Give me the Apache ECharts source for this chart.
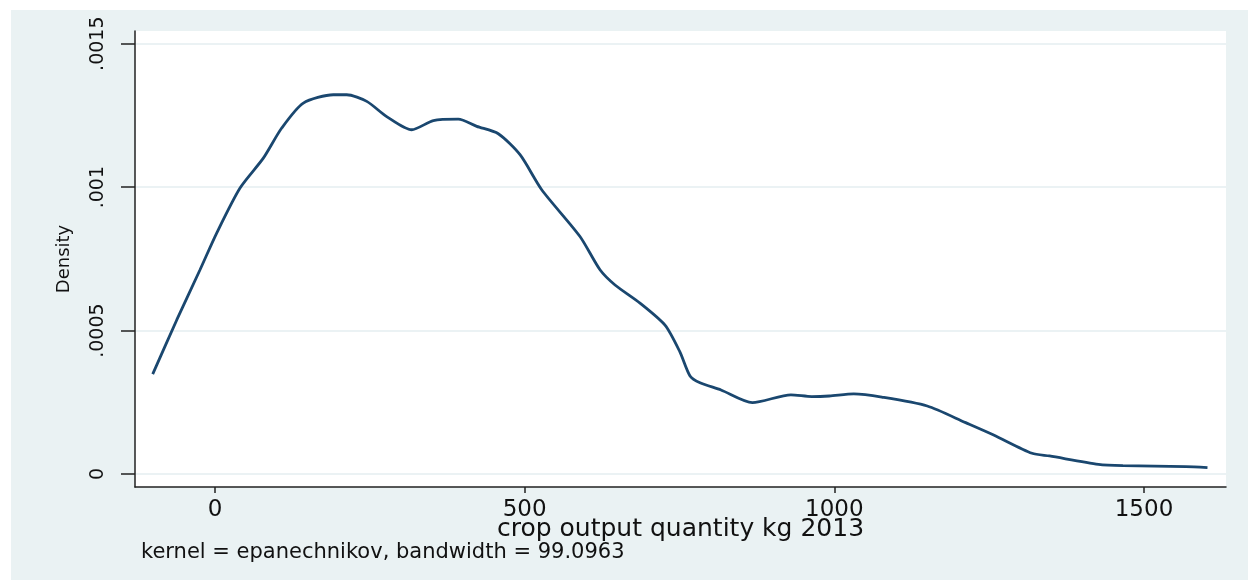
<!DOCTYPE html>
<html>
<head>
<meta charset="utf-8">
<script src="https://cdn.jsdelivr.net/npm/echarts@6/dist/echarts.min.js"></script>
<style>
  html, body { margin: 0; padding: 0; background: #ffffff; }
  #chart { position: absolute; left: 11px; top: 10px; width: 1237px; height: 570px; }
</style>
</head>
<body>
<div id="chart"></div>
<script>
// kernel density estimate
const xPoints = [-100.6, -61.8, -24.2, 2.7, 40.4, 78, 107.7, 142.6, 191, 212.7, 245, 277.2, 317.6, 352.5, 392.8, 422.6, 457.4, 492.5, 527.5, 589.3, 621.6, 645.9, 686.2, 726.6, 750.8, 767, 783.1, 817, 867.7, 929.9, 963.6, 991.9, 1031.4, 1076.6, 1150, 1212, 1257.2, 1319.2, 1347.4, 1426.5, 1466, 1567.5, 1602.5]
const densityValues = [0.000348, 0.000537, 0.000712, 0.00084, 0.000997, 0.001101, 0.001206, 0.001293, 0.001322, 0.001322, 0.001299, 0.001246, 0.0012, 0.001232, 0.001237, 0.001212, 0.001186, 0.001113, 0.000991, 0.000828, 0.000712, 0.000659, 0.000596, 0.000519, 0.000425, 0.000342, 0.000318, 0.000293, 0.000249, 0.000276, 0.00027, 0.000272, 0.000279, 0.000268, 0.000237, 0.000179, 0.000136, 0.0000722, 0.0000628, 0.0000338, 0.000029, 0.0000255, 0.000022]

const xTicks = [0, 500, 1000, 1500]
const yTicks = [0, 0.0005, 0.001, 0.0015]
const yTickLabels = ['0', '.0005', '.001', '.0015']

const xTitle = 'crop output quantity kg 2013'
const yTitle = 'Density'
const note = 'kernel = epanechnikov, bandwidth = 99.0963'

const font = 'DejaVu Sans'
const ink = '#111111'

const chart = echarts.init(document.getElementById('chart'))

chart.setOption({
  backgroundColor: '#eaf2f3',
  animation: false,
  title: {
    text: note,
    left: 130,
    top: 532,
    padding: 0,
    textStyle: { fontFamily: font, fontSize: 21, fontWeight: 'normal', color: ink },
  },
  grid: {
    left: 124,
    top: 21,
    right: 22,
    bottom: 93,
    show: true,
    backgroundColor: '#ffffff',
    borderWidth: 0,
  },
  xAxis: {
    type: 'value',
    min: -129.2,
    max: 1632.4,
    name: xTitle,
    nameLocation: 'middle',
    nameGap: 30,
    nameMoveOverlap: false,
    nameTextStyle: { fontFamily: font, fontSize: 25, color: ink },
    axisLine: { onZero: false, lineStyle: { color: '#222222', width: 1.5 } },
    axisTick: { length: 6, customValues: xTicks, lineStyle: { color: '#222222', width: 1.5 } },
    axisLabel: {
      customValues: xTicks,
      margin: 12,
      fontFamily: font,
      fontSize: 23,
      color: ink,
      formatter: (v) => String(v),
    },
    splitLine: { show: false },
  },
  yAxis: {
    type: 'value',
    min: -0.0000453,
    max: 0.0015443,
    name: yTitle,
    nameLocation: 'middle',
    nameGap: 62,
    nameRotate: 90,
    nameMoveOverlap: false,
    nameTextStyle: { fontFamily: font, fontSize: 18, color: ink },
    axisLine: { show: true, onZero: false, lineStyle: { color: '#222222', width: 1.5 } },
    axisTick: { show: true, length: 14, customValues: yTicks, lineStyle: { color: '#222222', width: 1.5 } },
    axisLabel: {
      customValues: yTicks,
      rotate: 90,
      margin: 27,
      fontFamily: font,
      fontSize: 19,
      color: ink,
      formatter: (v) => {
        const i = yTicks.findIndex((t) => Math.abs(t - v) < 1e-9)
        return i >= 0 ? yTickLabels[i] : ''
      },
    },
    splitLine: { show: true, lineStyle: { color: '#e4eef0', width: 1.5 } },
  },
  series: [
    {
      type: 'line',
      data: xPoints.map((x, i) => [x, densityValues[i]]),
      showSymbol: false,
      smooth: 0.25,
      lineStyle: { color: '#1a476f', width: 2.8 },
    },
  ],
})
</script>
</body>
</html>
